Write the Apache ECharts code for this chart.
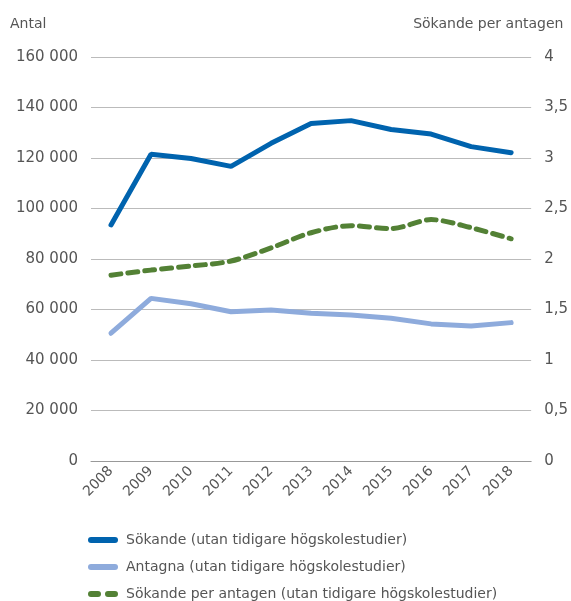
<!DOCTYPE html>
<html>
<head>
<meta charset="utf-8">
<script src="https://cdn.jsdelivr.net/npm/echarts@6/dist/echarts.min.js"></script>
<style>
  html, body { margin: 0; padding: 0; background: #fff; }
  #chart { width: 571px; height: 601px; }
</style>
</head>
<body>
<div id="chart"></div>
<script>
// years on the x axis
const years = ['2008', '2009', '2010', '2011', '2012', '2013', '2014', '2015', '2016', '2017', '2018']
// applicants and admitted (left axis, count)
const sokande = [93500, 121500, 119800, 116700, 125800, 133700, 134800, 131300, 129500, 124500, 122100]
const antagna = [50600, 64400, 62300, 59100, 59800, 58500, 57800, 56500, 54300, 53500, 54800]
// applicants per admitted (right axis)
const sokandePerAntagen = [1.84, 1.89, 1.93, 1.98, 2.11, 2.26, 2.33, 2.30, 2.39, 2.31, 2.20]

const textColor = '#555'
const font = 'DejaVu Sans'

const solidIcon = 'path://M3,0 L27,0 A3,3 0 0 1 27,6 L3,6 A3,3 0 0 1 3,0 Z'
const dashIcon = 'path://M3,0 L10,0 A3,3 0 0 1 10,6 L3,6 A3,3 0 0 1 3,0 Z M20,0 L27,0 A3,3 0 0 1 27,6 L20,6 A3,3 0 0 1 20,0 Z'

const chart = echarts.init(document.getElementById('chart'))
chart.setOption({
  animation: false,
  textStyle: { fontFamily: font, color: textColor },
  grid: { left: 91, right: 35, top: 57, bottom: 140 },
  legend: {
    orient: 'vertical',
    left: 88,
    top: 533,
    padding: 0,
    itemWidth: 30,
    itemHeight: 6,
    itemGap: 13,
    textStyle: { fontFamily: font, fontSize: 14, color: textColor, padding: [0, 0, 0, 3] },
    data: [
      { name: 'Sökande (utan tidigare högskolestudier)', icon: solidIcon },
      { name: 'Antagna (utan tidigare högskolestudier)', icon: solidIcon },
      { name: 'Sökande per antagen (utan tidigare högskolestudier)', icon: dashIcon }
    ]
  },
  xAxis: {
    type: 'category',
    data: years,
    boundaryGap: true,
    axisLine: { lineStyle: { color: '#999', width: 1 } },
    axisTick: { show: false },
    axisLabel: { rotate: 45, fontSize: 14, color: textColor, margin: 8, fontFamily: font }
  },
  yAxis: [
    {
      type: 'value',
      min: 0,
      max: 160000,
      interval: 20000,
      name: 'Antal',
      nameLocation: 'end',
      nameGap: 26,
      nameTextStyle: { align: 'left', padding: [0, 0, 0, -81], fontSize: 14, color: textColor, fontFamily: font },
      axisLine: { show: false },
      axisTick: { show: false },
      axisLabel: {
        fontSize: 15, color: textColor, margin: 13, fontFamily: font,
        formatter: v => String(v).replace(/\B(?=(\d{3})+(?!\d))/g, ' ')
      },
      splitLine: { lineStyle: { color: '#bbb', width: 1 } }
    },
    {
      type: 'value',
      min: 0,
      max: 4,
      interval: 0.5,
      name: 'Sökande per antagen',
      nameLocation: 'end',
      nameGap: 26,
      nameTextStyle: { align: 'left', padding: [0, 0, 0, -118], fontSize: 14, color: textColor, fontFamily: font },
      axisLine: { show: false },
      axisTick: { show: false },
      axisLabel: {
        fontSize: 15, color: textColor, margin: 13, fontFamily: font,
        formatter: v => String(v).replace('.', ',')
      },
      splitLine: { show: false }
    }
  ],
  series: [
    {
      name: 'Sökande (utan tidigare högskolestudier)',
      type: 'line',
      yAxisIndex: 0,
      data: sokande,
      symbol: 'none',
      lineStyle: { color: '#0063ae', width: 5, cap: 'round' },
      itemStyle: { color: '#0063ae' }
    },
    {
      name: 'Antagna (utan tidigare högskolestudier)',
      type: 'line',
      yAxisIndex: 0,
      data: antagna,
      symbol: 'none',
      lineStyle: { color: '#8eabdc', width: 5, cap: 'round' },
      itemStyle: { color: '#8eabdc' }
    },
    {
      name: 'Sökande per antagen (utan tidigare högskolestudier)',
      type: 'line',
      yAxisIndex: 1,
      data: sokandePerAntagen,
      symbol: 'none',
      smooth: 0.3,
      lineStyle: { color: '#538135', width: 5, type: [10, 7], cap: 'round' },
      itemStyle: { color: '#538135' }
    }
  ]
})
</script>
</body>
</html>
